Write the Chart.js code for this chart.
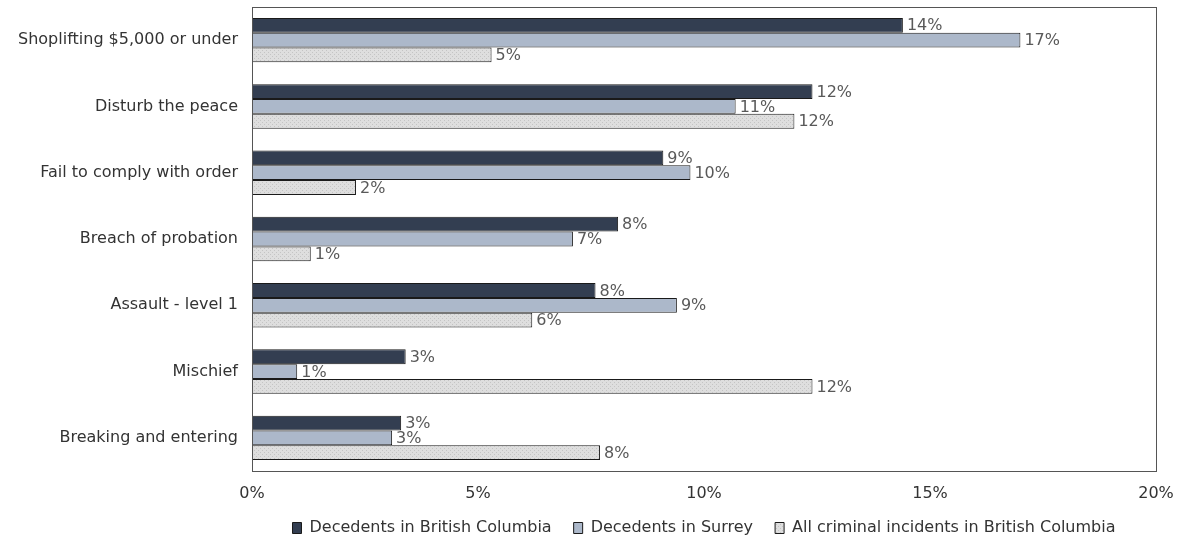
<!DOCTYPE html>
<html>
<head>
<meta charset="utf-8">
<script src="https://cdn.jsdelivr.net/npm/chart.js@4/dist/chart.umd.min.js"></script>
<style>
  body { margin: 0; background: #fff; }
  #wrap { width: 1183px; height: 539px; }
</style>
</head>
<body>
<div id="wrap"><canvas id="chart" width="1183" height="539"></canvas></div>
<script>
const categories = [
  'Shoplifting $5,000 or under',
  'Disturb the peace',
  'Fail to comply with order',
  'Breach of probation',
  'Assault - level 1',
  'Mischief',
  'Breaking and entering'
];
const decedentsBC = [14.4, 12.4, 9.1, 8.1, 7.6, 3.4, 3.3];
const decedentsSurrey = [17.0, 10.7, 9.7, 7.1, 9.4, 1.0, 3.1];
const allIncidentsBC = [5.3, 12.0, 2.3, 1.3, 6.2, 12.4, 7.7];
const xTicks = [0, 5, 10, 15, 20];

const FONT = 'DejaVu Sans, Verdana, sans-serif';

// light grey fill with a fine dot texture
function dotPattern() {
  const c = document.createElement('canvas');
  c.width = 4; c.height = 4;
  const g = c.getContext('2d');
  g.fillStyle = '#dedede';
  g.fillRect(0, 0, 4, 4);
  g.fillStyle = '#c4c4c4';
  g.fillRect(0, 0, 1, 1);
  g.fillRect(2, 2, 1, 1);
  return g.createPattern(c, 'repeat');
}

// box round the plot area
const frame = {
  id: 'frame',
  afterDraw(chart) {
    const { ctx, chartArea: a } = chart;
    ctx.save();
    ctx.strokeStyle = '#555';
    ctx.lineWidth = 1;
    ctx.strokeRect(Math.round(a.left) + 0.5, Math.round(a.top) + 0.5,
      Math.round(a.right - a.left), Math.round(a.bottom - a.top));
    ctx.restore();
  }
};

// percentage label at the end of every bar
const barLabels = {
  id: 'barLabels',
  afterDatasetsDraw(chart) {
    const { ctx } = chart;
    ctx.save();
    ctx.font = '16px ' + FONT;
    ctx.fillStyle = '#595959';
    ctx.textAlign = 'left';
    ctx.textBaseline = 'middle';
    chart.data.datasets.forEach((ds, i) => {
      chart.getDatasetMeta(i).data.forEach((bar, j) => {
        ctx.fillText(Math.round(ds.data[j]) + '%', bar.x + 4, bar.y + 1);
      });
    });
    ctx.restore();
  }
};

new Chart(document.getElementById('chart'), {
  type: 'bar',
  data: {
    labels: categories,
    datasets: [
      { label: 'Decedents in British Columbia', data: decedentsBC,
        backgroundColor: '#333e51', borderColor: '#1a1a1a' },
      { label: 'Decedents in Surrey', data: decedentsSurrey,
        backgroundColor: '#acb8ca', borderColor: '#1a1a1a' },
      { label: 'All criminal incidents in British Columbia', data: allIncidentsBC,
        backgroundColor: dotPattern(), borderColor: '#1a1a1a' }
    ]
  },
  options: {
    indexAxis: 'y',
    responsive: false,
    animation: false,
    layout: { padding: { top: 7, right: 27, left: 0, bottom: -7 } },
    datasets: {
      bar: { borderWidth: 1, borderSkipped: false, categoryPercentage: 0.67, barPercentage: 1.0 }
    },
    scales: {
      x: {
        min: 0, max: 20,
        afterBuildTicks(scale) { scale.ticks = xTicks.map(v => ({ value: v })); },
        afterFit(scale) {
          scale.height = 27;
          scale.paddingLeft = 0;
          scale.paddingRight = 0;
        },
        grid: { display: false, drawTicks: false },
        border: { display: false },
        ticks: {
          padding: 13,
          color: '#333',
          font: { family: FONT, size: 16 },
          callback: v => v + '%'
        }
      },
      y: {
        afterFit(scale) {
          scale.width = 252;
          scale.paddingTop = 0;
          scale.paddingBottom = 0;
        },
        grid: { display: false, drawTicks: false },
        border: { display: false },
        ticks: {
          padding: 14,
          color: '#333',
          font: { family: FONT, size: 16 }
        }
      }
    },
    plugins: {
      legend: {
        position: 'bottom',
        fullSize: false,
        labels: {
          boxWidth: 9,
          boxHeight: 11,
          padding: 22,
          color: '#333',
          font: { family: FONT, size: 16 }
        }
      },
      tooltip: { enabled: false }
    }
  },
  plugins: [frame, barLabels]
});
</script>
</body>
</html>
